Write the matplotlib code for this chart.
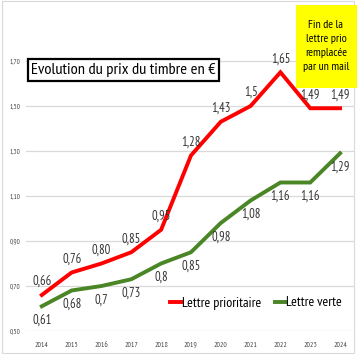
import matplotlib
matplotlib.use('Agg')
import matplotlib.pyplot as plt
from matplotlib.patches import Rectangle

plt.rcParams['font.family'] = ['PT Sans Narrow', 'DejaVu Sans']

# -- data --
years = [2014, 2015, 2016, 2017, 2018, 2019, 2020, 2021, 2022, 2023, 2024]
prio = [0.66, 0.76, 0.80, 0.85, 0.95, 1.28, 1.43, 1.50, 1.65, 1.49, 1.49]
verte = [0.61, 0.68, 0.70, 0.73, 0.80, 0.85, 0.98, 1.08, 1.16, 1.16, 1.29]
prio_labels = ['0,66', '0,76', '0,80', '0,85', '0,95', '1,28', '1,43', '1,5', '1,65', '1,49', '1,49']
verte_labels = ['0,61', '0,68', '0,7', '0,73', '0,8', '0,85', '0,98', '1,08', '1,16', '1,16', '1,29']
yticks = [0.5, 0.7, 0.9, 1.1, 1.3, 1.5, 1.7]
ytick_labels = ['0,50', '0,70', '0,90', '1,10', '1,30', '1,50', '1,70']

red = '#ff0000'
green = '#4a8526'

fig = plt.figure(figsize=(3.57, 3.57), dpi=100)
ax = fig.add_axes([26/357, 26/357, 329/357, 315/357])

ax.plot(years, prio, color=red, lw=2.8, solid_joinstyle='miter', label='Lettre prioritaire', zorder=3)
ax.plot(years, verte, color=green, lw=2.8, solid_joinstyle='miter', label='Lettre verte', zorder=3)

for x, y, t in zip(years, prio, prio_labels):
    ax.annotate(t, (x, y), xytext=(0, 5), textcoords='offset points',
                ha='center', va='bottom', fontsize=9, color='#333333')
for x, y, t in zip(years, verte, verte_labels):
    ax.annotate(t, (x, y), xytext=(0, -5.5), textcoords='offset points',
                ha='center', va='top', fontsize=9, color='#333333')

ax.set_xlim(2013.47, 2024.5)
ax.set_ylim(0.5, 1.9)
ax.set_xticks(years)
ax.set_xticklabels([str(y) for y in years], fontsize=5.5, color='#444444')
ax.set_yticks(yticks)
ax.set_yticklabels(ytick_labels, fontsize=5, color='#444444')
ax.tick_params(axis='x', length=0, pad=8)
ax.tick_params(axis='y', length=0, pad=4)
ax.grid(axis='y', color='#d9d9d9', lw=0.9)
for s in ax.spines.values():
    s.set_visible(False)

leg = ax.legend(loc='center', frameon=False, ncol=2,
                fontsize=10, handlelength=0.8, handletextpad=0.05, columnspacing=1.0)
leg.set_bbox_to_anchor((256/357, 54/357), transform=fig.transFigure)

fig.text(123.5/357, 1 - 70/357, 'Evolution du prix du timbre en €', ha='center', va='center',
         fontsize=11.8, color='black',
         bbox=dict(boxstyle='square,pad=0.22', fc='white', ec='black', lw=1.6))

fig.patches.append(Rectangle((296/357, 1 - 88/357), 61/357, 83/357, transform=fig.transFigure,
                             fc='#ffff00', ec='none', zorder=5))
fig.text(326/357, 1 - 46.5/357, 'Fin de la\nlettre prio\nremplacée\npar un mail', ha='center', va='center',
         fontsize=8.5, linespacing=1.5, color='black', zorder=6)

fig.patches.append(Rectangle((2/357, 4/357), 352/357, 352/357, transform=fig.transFigure,
                             fc='none', ec='#d9d9d9', lw=0.8))

plt.savefig('out.png', dpi=100)
